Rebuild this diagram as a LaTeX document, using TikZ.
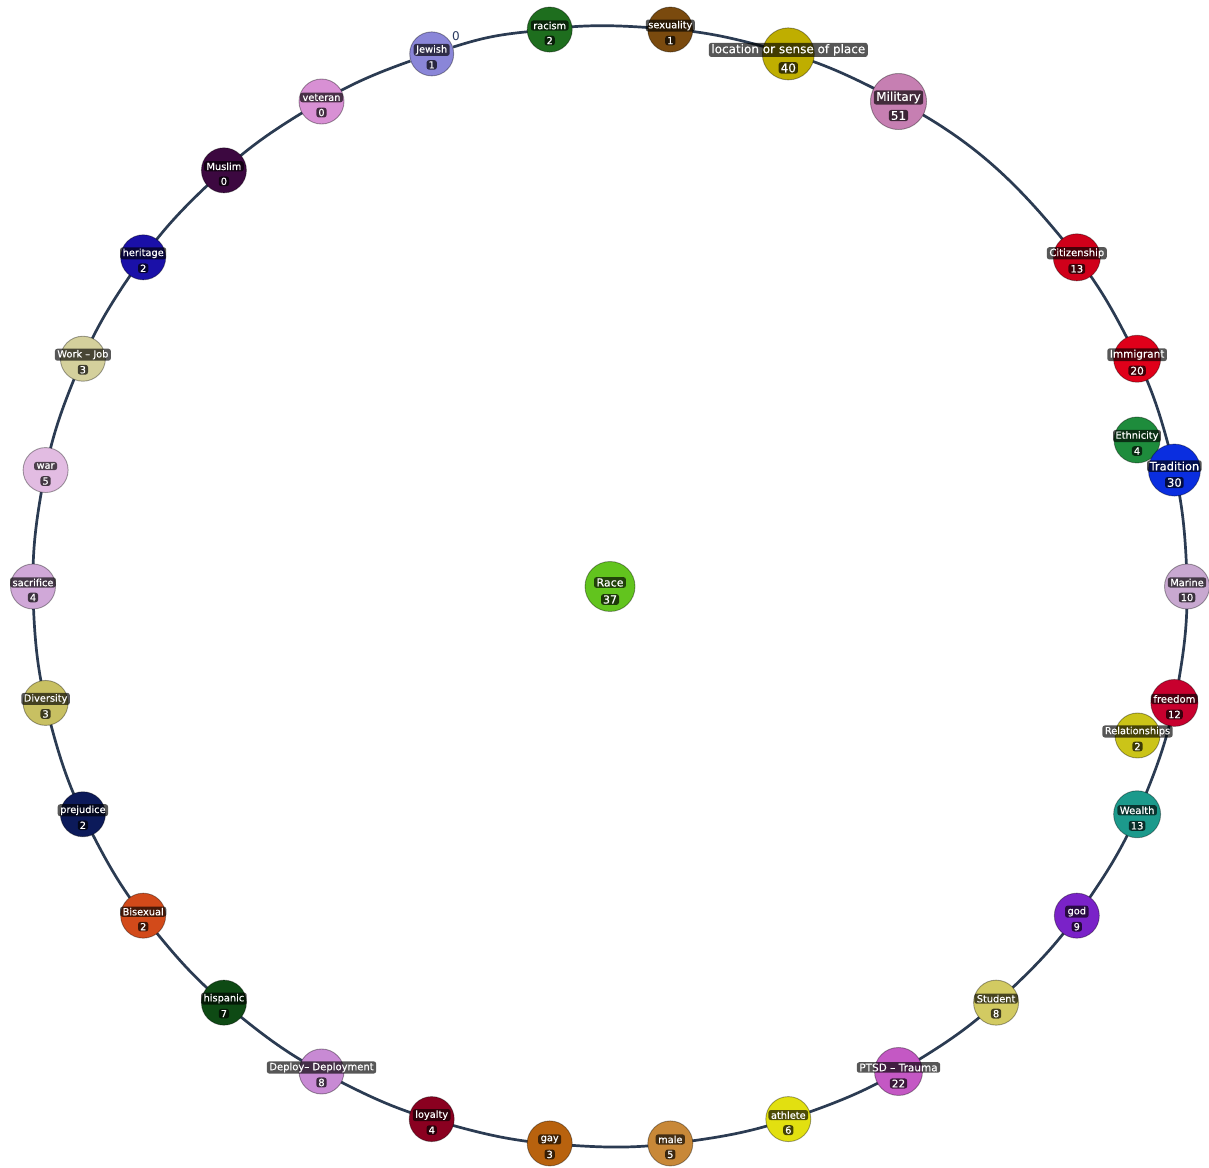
\documentclass[tikz,border=0pt]{standalone}
\usepackage{fontspec}
\setmainfont{DejaVu Sans}
\newfontfamily\lblfont{DejaVu Sans}[FakeBold=0.35]
\usetikzlibrary{backgrounds}
\definecolor{ringcol}{HTML}{2B3B52}
\definecolor{cJewish}{HTML}{8A86D8}
\definecolor{cracism}{HTML}{1E6E1E}
\definecolor{csex}{HTML}{7A4A0E}
\definecolor{cloc}{HTML}{BFAE00}
\definecolor{cmil}{HTML}{C67FB2}
\definecolor{ccit}{HTML}{D0001A}
\definecolor{cimm}{HTML}{E0001A}
\definecolor{ceth}{HTML}{1E8C3C}
\definecolor{ctrad}{HTML}{0A2EE0}
\definecolor{cmar}{HTML}{C8A8D0}
\definecolor{cfree}{HTML}{C8002E}
\definecolor{crel}{HTML}{CBC418}
\definecolor{cwealth}{HTML}{1C9A8C}
\definecolor{cgod}{HTML}{7A22C8}
\definecolor{cstud}{HTML}{D2CA62}
\definecolor{cptsd}{HTML}{C458C4}
\definecolor{cath}{HTML}{E2E010}
\definecolor{cmale}{HTML}{C88838}
\definecolor{cgay}{HTML}{B8620E}
\definecolor{cloy}{HTML}{8A0020}
\definecolor{cdep}{HTML}{C88AD4}
\definecolor{chisp}{HTML}{0E4A14}
\definecolor{cbi}{HTML}{D24A1A}
\definecolor{cprej}{HTML}{0C1A5A}
\definecolor{cdiv}{HTML}{C8C062}
\definecolor{csac}{HTML}{D0A8D8}
\definecolor{cwar}{HTML}{E2BCE2}
\definecolor{cwork}{HTML}{D4D09C}
\definecolor{cher}{HTML}{1A10A8}
\definecolor{cmus}{HTML}{3C0840}
\definecolor{cvet}{HTML}{D890D4}
\definecolor{crace}{HTML}{62C41E}
\definecolor{zerocol}{HTML}{2A3A60}
\tikzset{
  topic/.style={circle, draw=black, draw opacity=0.35, line width=0.9pt, inner sep=0pt},
  namebox/.style={fill=black, fill opacity=0.66, text opacity=1, text=white, rounded corners=2.5pt, inner xsep=2.5pt, inner ysep=1.3pt},
  numbox/.style={fill=black, fill opacity=0.7, text opacity=1, text=white, rounded corners=2.5pt, inner xsep=2pt, inner ysep=1.2pt},
  ring/.style={draw=ringcol, line width=2.7pt},
}
% id, position, radius, colour, name, number, font size, number offset
\newcommand\tnode[8]{%
  \node[topic, minimum size={2*#3}, fill=#4] (#1) at #2 {};
  \node[namebox, font=\lblfont\fontsize{#7}{#7}\selectfont] (#1-n) at ([yshift=4]#1.center) {#5};
  \node[numbox, font=\lblfont\fontsize{#7}{#7}\selectfont] (#1-v) at ([yshift=-#8]#1.center) {#6};
}
\begin{document}
\begin{tikzpicture}[x=1pt,y=1pt]
\useasboundingbox (0,0) rectangle (1209,1167);
\begin{scope}[shift={(610,580.5)}]
\tnode{jewish}{(108:577 and 560)}{22}{cJewish}{Jewish}{1}{9.8}{11}
\tnode{racism}{(96:577 and 560)}{22.5}{cracism}{racism}{2}{9.8}{11}
\tnode{sexuality}{(84:577 and 560)}{22.5}{csex}{sexuality}{1}{9.8}{11}
\tnode{location}{(72:577 and 560)}{26}{cloc}{location or sense of place}{40}{12}{14}
\tnode{military}{(60:577 and 560)}{28}{cmil}{Military}{51}{12}{14}
\tnode{citizenship}{(36:577 and 560)}{23.5}{ccit}{Citizenship}{13}{10}{11.5}
\tnode{immigrant}{(24:577 and 560)}{23.5}{cimm}{Immigrant}{20}{10.5}{12}
\tnode{ethnicity}{(527,146.5)}{23}{ceth}{Ethnicity}{4}{9.8}{11}
\tnode{tradition}{(12:577 and 560)}{26}{ctrad}{Tradition}{30}{11.5}{12.5}
\tnode{marine}{(0:577 and 560)}{22.5}{cmar}{Marine}{10}{9.8}{11}
\tnode{freedom}{(348:577 and 560)}{23.5}{cfree}{freedom}{12}{10}{11.5}
\tnode{relationships}{(527.5,-149)}{22.5}{crel}{Relationships}{2}{9.8}{11}
\tnode{wealth}{(336:577 and 560)}{23.5}{cwealth}{Wealth}{13}{10}{11.5}
\tnode{god}{(324:577 and 560)}{22.5}{cgod}{god}{9}{9.8}{11}
\tnode{student}{(312:577 and 560)}{22.5}{cstud}{Student}{8}{9.8}{11}
\tnode{ptsd}{(300:577 and 560)}{24}{cptsd}{PTSD – Trauma}{22}{10.5}{12}
\tnode{athlete}{(288:577 and 560)}{22.5}{cath}{athlete}{6}{9.8}{11}
\tnode{male}{(276:577 and 560)}{22.5}{cmale}{male}{5}{9.8}{11}
\tnode{gay}{(264:577 and 560)}{22.5}{cgay}{gay}{3}{9.8}{11}
\tnode{loyalty}{(252:577 and 560)}{22.5}{cloy}{loyalty}{4}{9.8}{11}
\tnode{deploy}{(240:577 and 560)}{22.5}{cdep}{Deploy– Deployment}{8}{10}{11}
\tnode{hispanic}{(228:577 and 560)}{22.5}{chisp}{hispanic}{7}{9.8}{11}
\tnode{bisexual}{(216:577 and 560)}{22.5}{cbi}{Bisexual}{2}{9.8}{11}
\tnode{prejudice}{(204:577 and 560)}{22.5}{cprej}{prejudice}{2}{9.8}{11}
\tnode{diversity}{(192:577 and 560)}{22.5}{cdiv}{Diversity}{3}{9.8}{11}
\tnode{sacrifice}{(180:577 and 560)}{22.5}{csac}{sacrifice}{4}{9.8}{11}
\tnode{war}{(168:577 and 560)}{22.5}{cwar}{war}{5}{9.8}{11}
\tnode{work}{(156:577 and 560)}{22.5}{cwork}{Work – Job}{3}{9.8}{11}
\tnode{heritage}{(144:577 and 560)}{22.5}{cher}{heritage}{2}{9.8}{11}
\tnode{muslim}{(132:577 and 560)}{22.5}{cmus}{Muslim}{0}{9.8}{11}
\tnode{veteran}{(120:577 and 560)}{22.5}{cvet}{veteran}{0}{9.8}{11}
\tnode{race}{(0,0)}{25}{crace}{Race}{37}{11}{13}
\end{scope}
\node[text=zerocol, font=\fontsize{12}{12}\selectfont, inner sep=0pt] (zero) at (456,1131) {0};
\begin{pgfonlayer}{background}
\fill[white] (0,0) rectangle (1209,1167);
\draw[ring] (jewish) to[bend left=6] (racism) to[bend left=6] (sexuality)
  to[bend left=6] (location) to[bend left=6] (military) to[bend left=12] (citizenship)
  to[bend left=6] (immigrant) to[bend left=6] (tradition) to[bend left=6] (marine)
  to[bend left=6] (freedom) to[bend left=6] (wealth) to[bend left=6] (god)
  to[bend left=6] (student) to[bend left=6] (ptsd) to[bend left=6] (athlete)
  to[bend left=6] (male) to[bend left=6] (gay) to[bend left=6] (loyalty)
  to[bend left=6] (deploy) to[bend left=6] (hispanic) to[bend left=6] (bisexual)
  to[bend left=6] (prejudice) to[bend left=6] (diversity) to[bend left=6] (sacrifice)
  to[bend left=6] (war) to[bend left=6] (work) to[bend left=6] (heritage)
  to[bend left=6] (muslim) to[bend left=6] (veteran) to[bend left=6] (jewish);
\end{pgfonlayer}
\end{tikzpicture}
\end{document}
